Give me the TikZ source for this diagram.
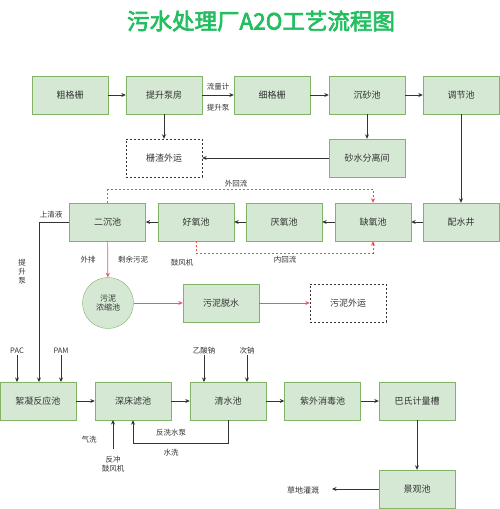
\documentclass[tikz,border=0pt]{standalone}
\usepackage{fontspec}
\setmainfont{Noto Sans CJK SC}
\newfontfamily\cjkb{Noto Sans CJK SC}[FakeBold=3]
\usetikzlibrary{arrows.meta}
\definecolor{boxfill}{HTML}{D5E8D4}
\definecolor{boxline}{HTML}{82B366}
\definecolor{titlegreen}{RGB}{34,190,96}
\definecolor{redline}{HTML}{EA5A64}
\definecolor{reddotc}{HTML}{FF4444}
\definecolor{darkline}{HTML}{333333}
\tikzset{
  stepbox/.style={draw=boxline,fill=boxfill,minimum width=76pt,minimum height=38pt,inner sep=0pt,font=\fontsize{9}{10}\selectfont,text=darkline},
  outbox/.style={draw=darkline,dashed,dash pattern=on 2pt off 2pt,fill=white,minimum width=76pt,minimum height=38pt,inner sep=0pt,font=\fontsize{9}{10}\selectfont,text=darkline},
  lbl/.style={font=\fontsize{7.5}{8.5}\selectfont,text=darkline,inner sep=1pt},
  flow/.style={draw=darkline,line width=0.7pt,-{Stealth[length=4.5pt,width=4pt]}},
  redflow/.style={draw=redline,line width=0.7pt,-{Stealth[length=4.5pt,width=4pt]}},
  reddot/.style={draw=reddotc,line width=0.9pt,dash pattern=on 2pt off 2pt,-{Stealth[length=4.5pt,width=4pt]}},
}
\begin{document}
\begin{tikzpicture}[x=1pt,y=-1pt]
\useasboundingbox (0,0) rectangle (500,509);
\fill[white] (0,0) rectangle (500,509);
\node[font=\cjkb\fontsize{22.5}{24}\selectfont,text=titlegreen] (title) at (261,21) {污水处理厂A2O工艺流程图};
% row 1
\node[stepbox] (cgs) at (70,95) {粗格栅};
\node[stepbox] (tsbf) at (164,95) {提升泵房};
\node[stepbox] (xgs) at (272,95) {细格栅};
\node[stepbox] (csc) at (367,95) {沉砂池};
\node[stepbox] (tjc) at (461,95) {调节池};
\node[outbox] (zzwy) at (164,158) {栅渣外运};
\node[stepbox] (sslj) at (367,158) {砂水分离间};
% row 2
\node[stepbox] (psj) at (461,222) {配水井};
\node[stepbox] (qyc) at (373,222) {缺氧池};
\node[stepbox] (yyc) at (284,222) {厌氧池};
\node[stepbox] (hyc) at (196,222) {好氧池};
\node[stepbox] (ecc) at (107.5,222) {二沉池};
\node[draw=boxline,fill=boxfill,circle,minimum size=51pt,inner sep=0pt,align=center,font=\fontsize{8}{9.5}\selectfont,text=darkline] (wnnsc) at (108,303) {污泥\\浓缩池};
\node[stepbox] (wnts) at (221,303) {污泥脱水};
\node[outbox] (wnwy) at (348,303) {污泥外运};
% row 3
\node[stepbox] (xnfy) at (38,401) {絮凝反应池};
\node[stepbox] (scll) at (133,401) {深床滤池};
\node[stepbox] (qsc) at (228,401) {清水池};
\node[stepbox] (zwxd) at (322.5,401) {紫外消毒池};
\node[stepbox] (bsjl) at (417,401) {巴氏计量槽};
\node[stepbox] (jgc) at (417,489) {景观池};
% row 1 flows
\draw[flow] (cgs) -- (tsbf);
\draw[flow] (tsbf) -- (xgs);
\node[lbl] (llj) at (218,87) {流量计};
\node[lbl] (tsb) at (218,108) {提升泵};
\draw[flow] (xgs) -- (csc);
\draw[flow] (csc) -- (tjc);
\draw[flow] (tsbf) -- (zzwy);
\draw[flow] (csc) -- (sslj);
\draw[flow] (sslj) -- (zzwy);
\draw[flow] (tjc) -- (psj);
% row 2 flows
\draw[flow] (psj) -- (qyc);
\draw[flow] (qyc) -- (yyc);
\draw[flow] (yyc) -- (hyc);
\draw[flow] (hyc) -- (ecc);
\draw[reddot] (ecc.north) -- ++(0,-13) -| (qyc.north);
\node[lbl] (whl) at (236,184) {外回流};
\draw[reddot] (hyc.south) -- ++(0,12) -| (qyc.south);
\node[lbl] (nhl) at (285,260) {内回流};
\node[lbl] (wp) at (88,260) {外排};
\node[lbl] (sywn) at (133,260) {剩余污泥};
\node[lbl] (gfj) at (182,263) {鼓风机};
\draw[redflow] (ecc) -- (wnnsc);
\draw[redflow] (wnnsc) -- (wnts);
\draw[redflow] (wnts) -- (wnwy);
% supernatant line
\coordinate (sq1) at (39,222);
\coordinate (sq2) at (39,382);
\draw[flow] (ecc.west) -- (sq1) -- (sq2);
\node[lbl] (sqy) at (51,215) {上清液};
\node[lbl,align=center,font=\fontsize{7.5}{9}\selectfont] (tsbv) at (22,272) {提\\升\\泵};
% dosing
\coordinate (pac) at (17,355);
\coordinate (pam) at (61,355);
\node[lbl,anchor=south] (pacl) at (pac) {PAC};
\node[lbl,anchor=south] (paml) at (pam) {PAM};
\draw[flow] (pac) -- (17,382);
\draw[flow] (pam) -- (61,382);
\coordinate (ysn) at (204,355);
\coordinate (cn) at (247,355);
\node[lbl,anchor=south] (ysnl) at (ysn) {乙酸钠};
\node[lbl,anchor=south] (cnl) at (cn) {次钠};
\draw[flow] (ysn) -- (204,382);
\draw[flow] (cn) -- (247,382);
% row 3 flows
\draw[flow] (xnfy) -- (scll);
\draw[flow] (scll) -- (qsc);
\draw[flow] (qsc) -- (zwxd);
\draw[flow] (zwxd) -- (bsjl);
\draw[flow] (bsjl) -- (jgc);
\coordinate (cdgg) at (332,489);
\draw[flow] (jgc) -- (cdgg);
\node[lbl,font=\fontsize{8}{9}\selectfont] (cdggl) at (303,490) {草地灌溉};
% backwash
\coordinate (fc) at (113,449);
\draw[flow] (fc) -- (113,420);
\node[lbl,align=center] (fcl) at (113,464) {反冲\\鼓风机};
\node[lbl] (qx) at (89,440) {气洗};
\coordinate (fx1) at (228,443);
\coordinate (fx2) at (133,443);
\draw[flow] (qsc.south) -- (fx1) -- (fx2) -- (scll.south);
\node[lbl] (fxsb) at (171,433) {反洗水泵};
\node[lbl] (sx) at (171,453) {水洗};
\end{tikzpicture}
\end{document}
